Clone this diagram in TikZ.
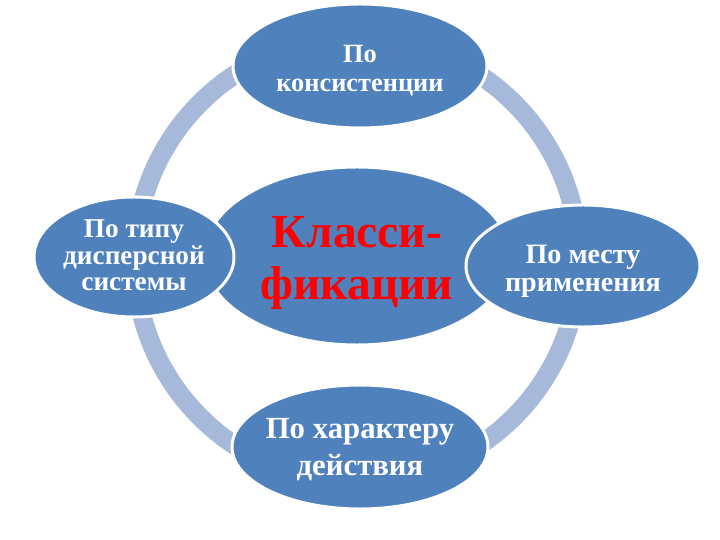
\documentclass[tikz,border=0pt]{standalone}
\usepackage{fontspec}
\setmainfont{Liberation Serif}
\usetikzlibrary{positioning,shapes.geometric}
\definecolor{petalblue}{RGB}{79,129,189}
\definecolor{ringblue}{RGB}{167,185,218}
\definecolor{titlered}{RGB}{255,0,0}
\tikzset{
    petal/.style={
        ellipse,
        draw=white,
        line width=1.7pt,
        fill=petalblue,
        inner sep=0pt
    },
    petaltext/.style={
        inner sep=0pt,
        align=center,
        text=white,
        font=\bfseries
    },
    ring/.style={
        draw=ringblue,
        line width=10.8pt
    }
}
\tikzstyle{hub} = [petal, minimum width=6.12cm, minimum height=3.56cm]
\tikzstyle{hubtext} = [petaltext, text=titlered, font=\bfseries\fontsize{27}{29.5}\selectfont]

\begin{document}
\begin{tikzpicture}
          \useasboundingbox (0,0) rectangle (14.4,-10.8);
          % ring behind everything
          \coordinate (mid) at (7.14,-5.2);
          \draw [ring] (mid) circle (4.44);
          \node (hub) [hub, label={[hubtext, yshift=-0.14cm]center:{Класси-\\фикации}}] at (7.14,-5.12) {};
          \node (top) [petal, minimum width=5.08cm, minimum height=2.48cm,
              label={[petaltext, yshift=-0.09cm, font=\bfseries\fontsize{15}{16.4}\selectfont]center:{По\\консистенции}}] at (7.2,-1.32) {};
          \node (left) [petal, minimum width=4cm, minimum height=2.4cm,
              label={[petaltext, yshift=0.03cm, font=\bfseries\fontsize{15.5}{15}\selectfont]center:{По типу\\дисперсной\\системы}}] at (2.68,-5.14) {};
          \node (right) [petal, minimum width=4.68cm, minimum height=2.44cm,
              label={[petaltext, yshift=-0.11cm, font=\bfseries\fontsize{16}{16}\selectfont]center:{По месту\\применения}}] at (11.66,-5.32) {};
          \node (bottom) [petal, minimum width=5.12cm, minimum height=2.48cm,
              label={[petaltext, yshift=-0.06cm, font=\bfseries\fontsize{17.5}{21}\selectfont]center:{По характеру\\действия}}] at (7.2,-8.94) {};
        \end{tikzpicture}
\end{document}
